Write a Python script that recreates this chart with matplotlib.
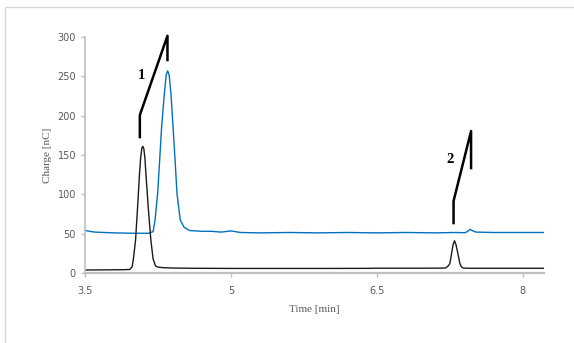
import numpy as np
import matplotlib.pyplot as plt
from matplotlib.patches import Rectangle

# black trace (time in min, charge in nC)
t_black = [3.5, 3.7, 3.9, 3.96, 3.985, 4.0, 4.02, 4.041, 4.061, 4.072, 4.085, 4.095, 4.105,
           4.116, 4.126, 4.15, 4.177, 4.2, 4.225, 4.25, 4.3, 4.4, 4.6, 5.0, 5.5, 6.0,
           6.4, 6.5, 7.0, 7.18, 7.21, 7.235, 7.252, 7.27, 7.285, 7.3, 7.315, 7.334,
           7.355, 7.37, 7.39, 7.45, 8.22]
q_black = [3.8, 4.0, 4.2, 4.5, 8, 20, 42, 84, 127, 146, 159, 161, 158,
           146, 127, 84, 42, 18, 9, 7.5, 6.8, 6.3, 6.0, 5.8, 5.8, 5.8,
           5.9, 6.1, 6.1, 6.2, 6.5, 9, 12, 25, 36, 41, 36, 25,
           12, 8, 6.2, 6.0, 6.0]

# blue trace
t_blue = [3.5, 3.6, 3.8, 4.0, 4.15, 4.2, 4.22, 4.247, 4.268, 4.288, 4.316, 4.335, 4.35,
          4.365, 4.384, 4.405, 4.426, 4.446, 4.48, 4.52, 4.575, 4.7, 4.8, 4.9, 5.0,
          5.1, 5.3, 5.6, 5.9, 6.2, 6.5, 6.8, 7.1, 7.3, 7.41, 7.44, 7.46, 7.49, 7.52,
          7.7, 8.22]
q_blue = [54, 52, 51, 50.5, 50.5, 52.5, 67, 101, 144, 186, 228, 252, 257,
          252, 228, 186, 144, 101, 67, 58, 54, 53, 53, 52, 53.5,
          51.5, 51, 51.5, 51, 51.5, 51, 51.5, 51, 51.5, 51.2, 53.5, 55.5, 53.5, 52,
          51.5, 51.5]

# peak labels and their bracket lines
peak_names = ['1', '2']
bracket_x = [[4.064, 4.064, 4.348, 4.348], [7.29, 7.29, 7.47, 7.47]]
bracket_y = [[172.8, 200.8, 301.5, 270.7], [63.5, 91.5, 180.4, 133.4]]
label_xy = [(4.08, 251), (7.25, 144)]

fig = plt.figure(figsize=(5.74, 3.43), dpi=100)
fig.patches.append(Rectangle((5 / 574, -0.1), 1.2, 1 - 7 / 343 + 0.1, transform=fig.transFigure,
                             fill=False, edgecolor='#d9d9d9', linewidth=1))
ax = fig.add_axes([85 / 574, 1 - 273 / 343, (544 - 85) / 574, (273 - 37) / 343])

ax.plot(t_blue, q_blue, color='#0070c0', linewidth=1)
ax.plot(t_black, q_black, color='#1a1a1a', linewidth=1)

for name, bx, by, (lx, ly) in zip(peak_names, bracket_x, bracket_y, label_xy):
    ax.plot(bx, by, color='black', linewidth=1.8, clip_on=False)
    ax.text(lx, ly, name, fontsize=10.5, fontweight='bold', family='Liberation Serif',
            ha='center', va='center')

ax.set_xlim(3.5, 8.22)
ax.set_ylim(0, 300)
ax.set_xticks([3.5, 5, 6.5, 8])
ax.set_xticklabels(['3.5', '5', '6.5', '8'])
ax.set_yticks(range(0, 301, 50))
for s in ['top', 'right']:
    ax.spines[s].set_visible(False)
for s in ['left', 'bottom']:
    ax.spines[s].set_color('#bfbfbf')
ax.spines['left'].set_linewidth(1.2)
ax.spines['bottom'].set_linewidth(1.6)
ax.tick_params(colors='#bfbfbf', labelcolor='#595959', labelsize=7, length=3, width=1)
ax.tick_params(axis='x', pad=6)
ax.set_xlabel('Time [min]', family='Liberation Serif', fontsize=8, color='#595959', labelpad=7)
ax.set_ylabel('Charge [nC]', family='Liberation Serif', fontsize=8, color='#595959', labelpad=4)

fig.savefig('out.png', dpi=100)
